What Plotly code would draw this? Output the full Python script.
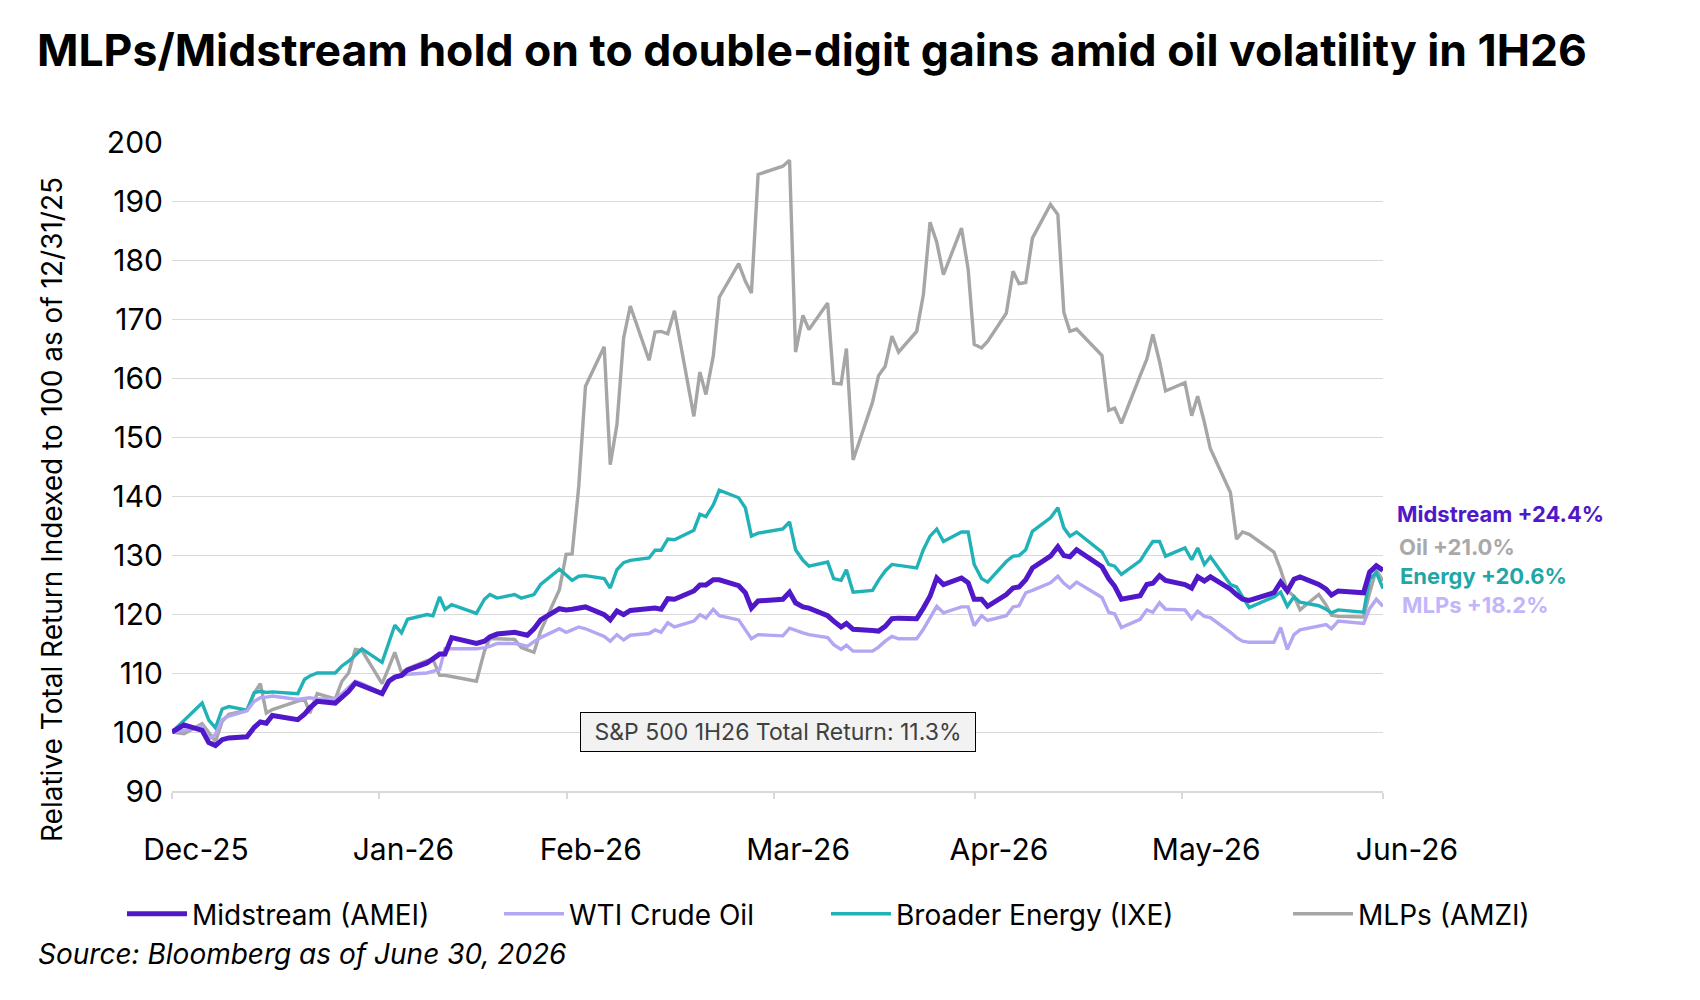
import pandas as pd
import plotly.graph_objects as go

# ---------------- data ----------------
START = "2025-12-31"

# trading-day positions, in days after 12/31/25
day = [
    0, 1.8,
    4.5, 5.5, 6.5, 7.5, 8.5,
    11.2, 12.3, 13.2, 14.1, 15.0,
    18.8, 19.8, 20.6, 21.7,
    24.4, 25.4, 26.4, 27.4, 28.4,
    31.4, 32.4, 33.3, 34.3, 35.2,
    38.1, 39.0, 40.0, 40.8, 41.8,
    45.5, 46.7, 47.5, 48.6,
    51.2, 52.2, 53.1, 54.1, 55.1,
    57.9, 58.9, 59.8, 60.8, 61.8,
    64.6, 65.5, 66.5, 67.5, 68.5,
    71.3, 72.2, 73.1, 74.1, 75.1,
    78.0, 78.9, 79.8, 80.9, 81.8,
    84.7, 85.7, 86.6, 87.6,
    91.3, 92.3, 93.2, 94.3, 95.2,
    98.0, 98.9, 100.0, 100.8, 101.8,
    104.7, 105.6, 106.6, 107.6, 108.6,
    111.3, 112.3, 113.3, 114.3, 115.3,
    118.0, 119.0, 119.9, 121.0, 121.9,
    124.7, 125.7, 126.6, 127.6, 128.6,
    131.3, 132.4, 133.3, 134.2, 135.2,
    139.0, 140.0, 140.9, 141.9,
    144.7, 145.7, 146.6, 147.6, 148.5,
    151.4, 152.4, 153.3, 154.3, 155.2,
    158.2, 159.1, 160.0, 161.0,
    164.7, 165.7, 166.7, 167.7, 168.6,
    171.4, 172.5, 173.3, 174.3,
    178.1, 179.0, 180.0, 181.0,
]

midstream = [
    100.0, 101.2,
    100.3, 98.2, 97.7, 98.7, 99.0,
    99.2, 100.8, 101.7, 101.5, 102.8,
    102.1, 103.0, 104.1, 105.2,
    104.9, 106.0, 106.9, 108.3, 107.8,
    106.5, 108.6, 109.3, 109.6, 110.5,
    111.7, 112.3, 113.2, 113.2, 116.0,
    115.0, 115.4, 116.1, 116.6,
    116.9, 116.7, 116.4, 117.5, 119.0,
    120.9, 120.7, 120.8, 121.0, 121.2,
    119.9, 119.0, 120.5, 119.9, 120.6,
    120.8, 121.0, 120.8, 122.6, 122.5,
    123.9, 124.9, 124.9, 125.8, 125.8,
    124.8, 123.6, 121.0, 122.2,
    122.5, 123.7, 121.9, 121.2, 121.0,
    119.7, 118.8, 117.8, 118.4, 117.4,
    117.2, 117.1, 117.9, 119.2, 119.3,
    119.2, 121.0, 123.0, 126.1, 125.0,
    126.1, 125.3, 122.5, 122.5, 121.3,
    123.3, 124.4, 124.6, 125.8, 127.8,
    129.8, 131.4, 129.9, 129.7, 130.9,
    128.0, 126.0, 124.7, 122.5,
    123.1, 125.0, 125.2, 126.5, 125.7,
    125.0, 124.4, 126.3, 125.6, 126.3,
    124.2, 123.3, 122.5, 122.3,
    123.6, 125.4, 123.9, 125.9, 126.3,
    125.0, 124.2, 123.2, 123.9,
    123.6, 127.1, 128.2, 127.4,
]

wti = [
    100.0, 100.3,
    101.0, 98.8, 99.6, 102.1, 102.7,
    103.6, 105.2, 105.8, 105.9, 106.1,
    105.5, 105.6, 105.8, 105.6,
    105.6, 106.5, 107.5, 108.6, 108.2,
    106.6, 108.6, 109.2, 109.5, 109.8,
    110.0, 110.3, 110.6, 114.1, 114.1,
    114.1, 114.3, 114.5, 115.0,
    115.0, 114.8, 114.5, 115.3, 116.0,
    117.5, 116.9, 117.3, 117.8, 117.5,
    116.2, 115.4, 116.5, 115.6, 116.4,
    116.7, 117.3, 116.9, 118.5, 117.8,
    118.8, 119.9, 119.3, 120.8, 119.7,
    119.0, 117.3, 115.8, 116.5,
    116.3, 117.6, 117.2, 116.8, 116.5,
    116.0, 114.8, 114.0, 114.7, 113.7,
    113.7, 114.4, 115.4, 116.2, 115.8,
    115.8, 117.4, 119.5, 121.3, 120.2,
    121.2, 121.2, 118.0, 119.7, 118.9,
    119.7, 121.2, 121.4, 123.6, 124.0,
    125.3, 126.4, 125.2, 124.4, 125.4,
    122.8, 120.3, 120.0, 117.7,
    119.1, 120.7, 120.3, 121.9, 120.8,
    120.7, 119.2, 120.5, 119.6, 119.4,
    116.9, 116.0, 115.4, 115.2,
    115.2, 117.7, 114.0, 116.5, 117.3,
    117.9, 118.2, 117.5, 118.8,
    118.4, 120.9, 122.5, 121.3,
]

energy = [
    100.0, 102.0,
    104.9, 102.0, 100.7, 103.9, 104.3,
    103.7, 106.7, 106.9, 106.7, 106.8,
    106.5, 108.9, 109.5, 110.0,
    110.0, 111.2, 112.0, 113.0, 114.1,
    111.8, 115.1, 118.1, 116.8, 119.1,
    119.9, 119.7, 122.9, 120.8, 121.6,
    120.1, 122.5, 123.3, 122.7,
    123.3, 122.7, 123.0, 123.3, 125.0,
    127.6, 126.6, 125.7, 126.4, 126.5,
    126.0, 124.4, 127.5, 128.7, 129.1,
    129.5, 130.8, 130.8, 132.7, 132.6,
    134.2, 136.9, 136.5, 138.5, 141.0,
    139.7, 138.0, 133.2, 133.7,
    134.4, 135.6, 130.9, 129.1, 128.1,
    128.8, 126.0, 125.7, 127.5, 123.7,
    124.0, 125.7, 127.3, 128.4, 128.2,
    127.8, 130.9, 133.2, 134.4, 132.3,
    133.9, 133.9, 128.4, 126.0, 125.4,
    128.9, 129.8, 129.9, 130.9, 134.0,
    136.3, 138.0, 134.6, 133.2, 133.9,
    130.5, 128.4, 128.1, 126.7,
    129.0, 130.8, 132.3, 132.3, 129.8,
    131.2, 129.2, 131.2, 128.4, 129.7,
    125.0, 124.6, 122.9, 121.1,
    122.9, 123.7, 121.3, 122.9, 122.0,
    121.4, 120.8, 120.2, 120.7,
    120.3, 125.9, 127.0, 124.3,
]

mlps = [
    100.0, 99.7,
    101.4, 100.0, 98.4, 101.8, 103.0,
    103.7, 106.6, 108.2, 103.2, 103.8,
    105.3, 105.6, 103.2, 106.5,
    105.6, 108.6, 110.0, 114.0, 113.8,
    108.2, 110.9, 113.5, 110.1, 110.7,
    112.1, 112.3, 109.6, 109.6, 109.4,
    108.6, 113.7, 115.8, 115.8,
    115.7, 114.3, 113.9, 113.5, 117.1,
    124.1, 130.1, 130.2, 141.7, 158.6,
    165.3, 145.3, 152.1, 166.8, 172.2,
    163.0, 167.8, 167.9, 167.5, 171.4,
    153.5, 161.0, 157.2, 163.7, 173.7,
    179.4, 176.4, 174.4, 194.5,
    195.9, 196.9, 164.4, 170.6, 168.2,
    172.7, 159.1, 159.0, 165.0, 146.1,
    155.9, 160.4, 162.0, 167.1, 164.4,
    167.9, 174.1, 186.4, 183.0, 177.5,
    185.4, 178.4, 165.7, 165.1, 166.2,
    171.0, 178.1, 176.0, 176.2, 183.7,
    189.4, 187.7, 171.1, 167.9, 168.3,
    163.8, 154.5, 154.9, 152.3,
    160.4, 163.2, 167.4, 162.8, 157.8,
    159.2, 153.6, 156.9, 152.5, 148.0,
    140.6, 132.7, 133.9, 133.5,
    130.5, 127.5, 124.0, 123.0, 120.7,
    123.3, 121.5, 119.8, 119.6,
    119.5, 123.6, 127.5, 125.6,
]

series_names = ["Midstream (AMEI)", "WTI Crude Oil", "Broader Energy (IXE)", "MLPs (AMZI)"]
tick_dates = ["2025-12-31", "2026-01-31", "2026-02-28", "2026-03-31",
              "2026-04-30", "2026-05-31", "2026-06-30"]
tick_text = ["Dec-25", "Jan-26", "Feb-26", "Mar-26", "Apr-26", "May-26", "Jun-26"]
end_labels = ["Midstream +24.4%", "Oil +21.0%", "Energy +20.6%", "MLPs +18.2%"]
sp500_note = "S&P 500 1H26 Total Return: 11.3%"
title_text = "MLPs/Midstream hold on to double-digit gains amid oil volatility in 1H26"
y_title = "Relative Total Return Indexed to 100 as of 12/31/25"
source_text = "Source: Bloomberg as of June 30, 2026"

# ---------------- figure ----------------
dates = pd.Timestamp(START) + pd.to_timedelta(day, unit="D")

C_MID = "#5018c8"
C_WTI = "#b4a6f2"
C_ENE = "#21b2b8"
C_MLP = "#a6a6a6"

L, R, T, B = 172, 317, 142, 209
W, H = 1700, 1000
pw, ph = W - L - R, H - T - B


def px_x(x):
    return (x - L) / pw


def px_y(y):
    return (H - B - y) / ph


fig = go.Figure()
# draw order: gray, teal, lavender, purple on top
fig.add_trace(go.Scatter(x=dates, y=mlps, name=series_names[3], mode="lines",
                         line=dict(color=C_MLP, width=3.4), legend="legend4"))
fig.add_trace(go.Scatter(x=dates, y=energy, name=series_names[2], mode="lines",
                         line=dict(color=C_ENE, width=3.4), legend="legend3"))
fig.add_trace(go.Scatter(x=dates, y=wti, name=series_names[1], mode="lines",
                         line=dict(color=C_WTI, width=3.4), legend="legend2"))
fig.add_trace(go.Scatter(x=dates, y=midstream, name=series_names[0], mode="lines",
                         line=dict(color=C_MID, width=5), legend="legend"))

legend_font = dict(family="Inter, sans-serif", size=28, color="black")


def legend_box(text_start_px):
    return dict(orientation="h", x=px_x(text_start_px - 71), y=px_y(914),
                xanchor="left", yanchor="middle", font=legend_font,
                itemwidth=60, bgcolor="rgba(0,0,0,0)")


fig.update_layout(
    width=W, height=H,
    margin=dict(l=L, r=R, t=T, b=B, autoexpand=False),
    plot_bgcolor="white", paper_bgcolor="white",
    font=dict(family="Inter, Roboto, sans-serif", color="black"),
    title=dict(text="<b>" + title_text + "</b>", xref="container", yref="container",
               x=37 / W, xanchor="left", y=1 - 50 / H, yanchor="middle",
               font=dict(family="Inter, sans-serif", size=44.5, color="black")),
    showlegend=True,
    legend=legend_box(193),
    legend2=legend_box(570),
    legend3=legend_box(897),
    legend4=legend_box(1359),
    hovermode=False,
)

fig.update_xaxes(
    type="date",
    range=[tick_dates[0], tick_dates[-1]],
    tickmode="array", tickvals=tick_dates, ticktext=tick_text,
    ticks="outside", ticklen=6, tickwidth=1.5, tickcolor="#d9d9d9",
    showgrid=False, showline=True, linecolor="#d9d9d9", linewidth=1.5,
    tickfont=dict(family="Inter, sans-serif", size=30, color="black"),
    ticklabelshift=24, ticklabelstandoff=25,
    zeroline=False,
)
fig.update_yaxes(
    range=[90, 200], dtick=10, tick0=90,
    showgrid=True, gridcolor="#d9d9d9", gridwidth=1,
    zeroline=False, showline=False, ticks="",
    tickfont=dict(family="Inter, sans-serif", size=30, color="black"),
    ticklabelstandoff=8,
)

# rotated y-axis title
fig.add_annotation(text=y_title, xref="paper", yref="paper",
                   x=px_x(52), y=px_y(510), xanchor="center", yanchor="middle",
                   textangle=-90, showarrow=False,
                   font=dict(family="Inter, sans-serif", size=28, color="black"))

label_colors = [C_MID, "#a9a9a9", "#1fa7a8", "#c2b6fb"]
label_y = [136.9, 131.4, 126.4, 121.6]
label_x = [1395, 1397, 1398, 1400]
for txt, col, yy, xx in zip(end_labels, label_colors, label_y, label_x):
    fig.add_annotation(text="<b>" + txt + "</b>", xref="paper", yref="y",
                       x=px_x(xx), y=yy, xanchor="left", yanchor="middle",
                       showarrow=False,
                       font=dict(family="Inter, sans-serif", size=22, color=col))

fig.add_annotation(text=sp500_note, xref="paper", yref="y", x=px_x(778), y=100,
                   xanchor="center", yanchor="middle", showarrow=False,
                   width=382, height=26, borderpad=6, borderwidth=1,
                   bordercolor="black", bgcolor="#f2f2f2",
                   font=dict(family="Inter, sans-serif", size=23, color="#404040"))

fig.add_annotation(text="<i>" + source_text + "</i>", xref="paper", yref="paper",
                   x=px_x(36), y=px_y(954), xanchor="left", yanchor="middle",
                   showarrow=False,
                   font=dict(family="Inter, sans-serif", size=28, color="black"))

fig.write_html("out.html")
